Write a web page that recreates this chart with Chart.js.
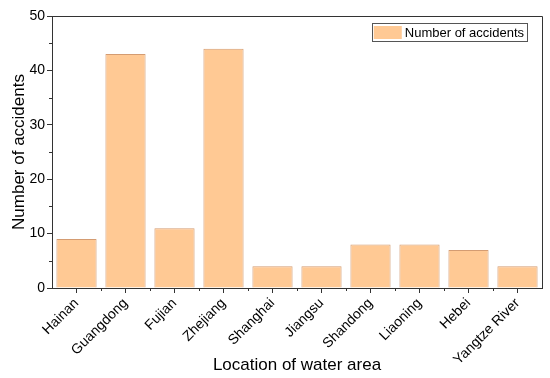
<!DOCTYPE html>
<html>
<head>
<meta charset="utf-8">
<script src="https://cdn.jsdelivr.net/npm/chart.js@4.4.0/dist/chart.umd.min.js"></script>
<style>
  html, body { margin: 0; padding: 0; background: #fff; }
  #wrap { width: 550px; height: 378px; }
</style>
</head>
<body>
<div id="wrap"><canvas id="myChart" width="550" height="378"></canvas></div>
<script>
'use strict';

// data
const locations = ['Hainan', 'Guangdong', 'Fujian', 'Zhejiang', 'Shanghai',
  'Jiangsu', 'Shandong', 'Liaoning', 'Hebei', 'Yangtze River'];
const accidents = [9, 43, 11, 44, 4, 4, 8, 8, 7, 4];
const yTicks = [0, 10, 20, 30, 40, 50];
const yMinorTicks = [5, 15, 25, 35, 45];

const axisColor = '#333';
const barFill = '#FFC994';
const barEdge = '#D49C72';
const fontFam = '"Liberation Sans", Arial, sans-serif';

// frame, minor ticks and boxed legend like the Origin plot
const originLook = {
  id: 'originLook',
  afterDraw(chart) {
    const ctx = chart.ctx;
    const a = chart.chartArea;
    const xs = chart.scales.x, ys = chart.scales.y;
    ctx.save();
    ctx.strokeStyle = axisColor;
    ctx.lineWidth = 1;
    // top + right lines of the box
    ctx.beginPath();
    ctx.moveTo(a.left, a.top + 0.5);
    ctx.lineTo(a.right + 0.5, a.top + 0.5);
    ctx.lineTo(a.right + 0.5, a.bottom);
    ctx.stroke();

    // minor ticks
    ctx.beginPath();
    yMinorTicks.forEach(v => {
      const py = Math.round(ys.getPixelForValue(v)) + 0.5;
      ctx.moveTo(a.left, py);
      ctx.lineTo(a.left - 3, py);
    });
    for (let i = 1; i < locations.length; i++) {
      const px = Math.round((xs.getPixelForValue(i - 1) + xs.getPixelForValue(i)) / 2) + 0.5;
      ctx.moveTo(px, a.bottom);
      ctx.lineTo(px, a.bottom + 3);
    }
    ctx.stroke();

    // legend
    const ds = chart.data.datasets[0];
    ctx.font = '13px ' + fontFam;
    const tw = ctx.measureText(ds.label).width;
    const bw = 30 + 3 + tw + 3;
    const bx = a.right - 15 - bw, by = a.top + 7, bh = 18;
    ctx.fillStyle = '#fff';
    ctx.fillRect(bx, by, bw, bh);
    ctx.strokeStyle = '#555';
    ctx.strokeRect(Math.round(bx) + 0.5, by + 0.5, Math.round(bw), bh);
    ctx.fillStyle = barFill;
    ctx.fillRect(bx + 2, by + 3, 28, bh - 5);
    ctx.fillStyle = '#000';
    ctx.textBaseline = 'middle';
    ctx.fillText(ds.label, bx + 33, by + bh / 2 + 1);
    ctx.restore();
  }
};

let ctxMap = document.getElementById('myChart');
let chart = new Chart(ctxMap, {
  type: 'bar',
  data: {
    labels: locations,
    datasets: [{
      label: 'Number of accidents',
      data: accidents,
      backgroundColor: barFill,
      borderColor: barEdge,
      borderWidth: 1,
      categoryPercentage: 1,
      barPercentage: 0.82
    }]
  },
  options: {
    responsive: false,
    animation: false,
    events: [],
    layout: { padding: { top: 16, right: 8, left: 9, bottom: 0 } },
    plugins: {
      legend: { display: false },
      tooltip: { enabled: false }
    },
    scales: {
      x: {
        grid: { display: true, drawOnChartArea: false, offset: false, tickLength: 5, color: axisColor },
        border: { color: axisColor, width: 1 },
        ticks: {
          color: '#000',
          font: { family: fontFam, size: 14 },
          maxRotation: 45, minRotation: 45,
          padding: 2, autoSkip: false
        },
        title: {
          display: true,
          text: 'Location of water area',
          color: '#000',
          font: { family: fontFam, size: 17 },
          padding: { top: 0, bottom: 2 }
        },
        afterFit(scale) { scale.height = 90; }
      },
      y: {
        min: 0, max: 50,
        afterBuildTicks(scale) { scale.ticks = yTicks.map(v => ({ value: v })); },
        grid: { display: true, drawOnChartArea: false, tickLength: 5, color: axisColor },
        border: { color: axisColor, width: 1 },
        ticks: {
          color: '#000',
          font: { family: fontFam, size: 14 },
          padding: 2
        },
        title: {
          display: true,
          text: 'Number of accidents',
          color: '#000',
          font: { family: fontFam, size: 17 },
          padding: { top: 0, bottom: 0 }
        },
        afterFit(scale) { scale.width = 43; }
      }
    }
  },
  plugins: [originLook]
});
</script>
</body>
</html>
